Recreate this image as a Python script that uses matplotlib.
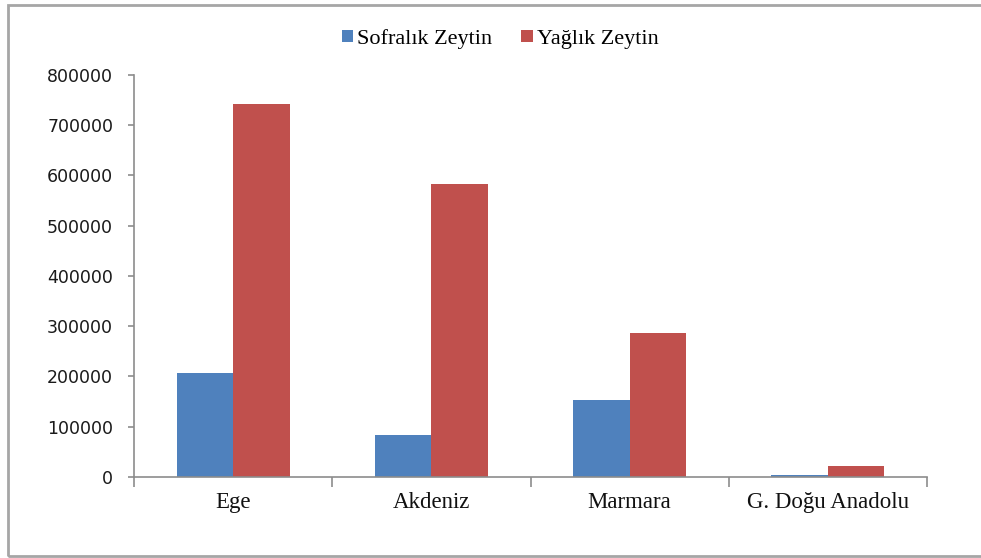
import numpy as np
import matplotlib
matplotlib.use('Agg')
import matplotlib.pyplot as plt
from matplotlib.patches import Rectangle

# data
regions = ['Ege', 'Akdeniz', 'Marmara', 'G. Doğu Anadolu']
sofralik = [207000, 84000, 153000, 4000]
yaglik = [743000, 583000, 286000, 22000]
series_names = ['Sofralık Zeytin', 'Yağlık Zeytin']
colors = ['#4f81bd', '#c0504d']
yticks = np.arange(0, 800001, 100000)

fig = plt.figure(figsize=(9.81, 5.58), dpi=100)
ax = fig.add_axes([0.1366, 0.1452, 0.8084, 0.7204])

x = np.arange(len(regions))
w = 0.285
b1 = ax.bar(x - w / 2, sofralik, w, color=colors[0], label=series_names[0])
b2 = ax.bar(x + w / 2, yaglik, w, color=colors[1], label=series_names[1])

ax.set_xlim(-0.5, len(regions) - 0.5)
ax.set_ylim(0, 800000)
ax.set_yticks(yticks)
ax.set_yticklabels([str(v) for v in yticks], family='DejaVu Sans',
                   fontsize=12.5, color='#1a1a1a')

ax.set_xticks(x)
ax.set_xticklabels(regions, family='Liberation Serif', fontsize=16.5, color='#111111')
ax.set_xticks(np.arange(-0.5, len(regions)), minor=True)
ax.tick_params(axis='x', which='major', length=0, pad=11)
ax.tick_params(axis='x', which='minor', length=7, width=1.2, color='#8c8c8c', direction='out')
ax.tick_params(axis='y', length=4.5, width=1.2, color='#8c8c8c', direction='out', pad=10.5)

for s in ['top', 'right']:
    ax.spines[s].set_visible(False)
for s in ['left', 'bottom']:
    ax.spines[s].set_color('#8c8c8c')
    ax.spines[s].set_linewidth(1.2)

fig.legend(handles=[b1, b2], labels=series_names, loc='center',
           bbox_to_anchor=(0.51, 0.93), ncol=2, frameon=False,
           prop={'family': 'Liberation Serif', 'size': 16},
           handlelength=0.5, handleheight=0.5, handletextpad=0.2,
           columnspacing=1.3)

# outer chart frame
fig.patches.append(Rectangle((8 / 981, 2 / 558), 1.0, 551 / 558,
                             transform=fig.transFigure, fill=False,
                             edgecolor='#a6a6a6', linewidth=2))

fig.savefig('out.png', dpi=100)
